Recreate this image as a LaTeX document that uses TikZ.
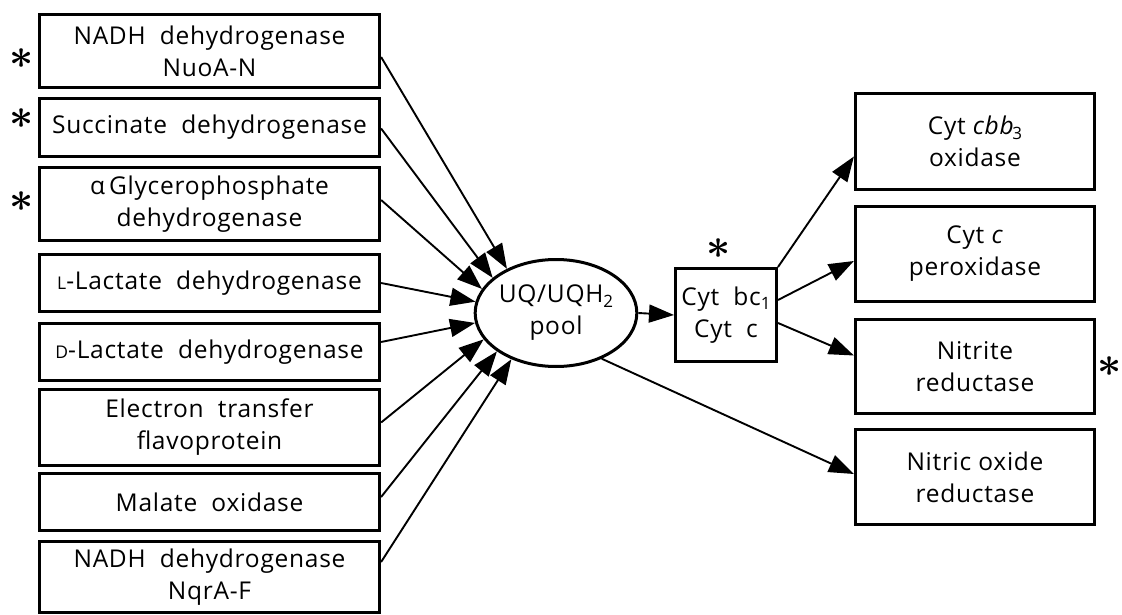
\documentclass[tikz,border=0pt]{standalone}
\usepackage{fontspec}
\setmainfont{Open Sans}[LetterSpace=3.0]
\usetikzlibrary{arrows.meta,shapes.geometric}
\newcommand\mysub[1]{{\fontsize{17}{17}\selectfont\raisebox{-4.5pt}{#1}}}
\newcommand\smallcap[1]{{\fontsize{17.5}{17}\selectfont #1}}
\begin{document}
\begin{tikzpicture}[x=1pt,y=-1pt,
  txt/.style={font=\fontsize{24.5}{32}\selectfont},
  lbox/.style={txt,draw,line width=3.2pt,minimum width=340pt,align=center,inner sep=0pt},
  rbox/.style={txt,draw,line width=3.2pt,minimum width=239pt,align=center,inner sep=0pt},
  arr/.style={line width=1.9pt,-{Triangle[length=25pt,width=18pt]}},
  star/.style={inner sep=0pt,scale=4.2,font=\boldmath}]
\useasboundingbox (0,0) rectangle (1122,615);
% left boxes
\node[lbox,minimum height=73pt] (b1) at (209.5,51) {NADH\ \ dehydrogenase\\NuoA-N};
\node[lbox,minimum height=58pt] (b2) at (209.5,127.5) {Succinate\ \ dehydrogenase};
\node[lbox,minimum height=73pt] (b3) at (209.5,204) {α\,Glycerophosphate\\dehydrogenase};
\node[lbox,minimum height=57pt] (b4) at (209.5,283) {\smallcap{L}-Lactate\ \ dehydrogenase};
\node[lbox,minimum height=57pt] (b5) at (209.5,352) {\smallcap{D}-Lactate\ \ dehydrogenase};
\node[lbox,minimum height=76pt] (b6) at (209.5,427.5) {Electron\ \ transfer\\flavoprotein};
\node[lbox,minimum height=57pt] (b7) at (209.5,502) {Malate\ \ oxidase};
\node[lbox,minimum height=71pt] (b8) at (209.5,577) {NADH\ \ dehydrogenase\\NqrA-F};
% asterisks left
\node[star] (s1) at (22,59) {$\ast$};
\node[star] (s2) at (22,119) {$\ast$};
\node[star] (s3) at (22,202) {$\ast$};
% pool
\node[txt,draw,ellipse,line width=3pt,minimum width=137pt,minimum height=107pt,inner sep=0pt,align=center] (pool) at (556,313) {UQ/UQH\mysub{2}\\pool};
% bc1
\node[txt,draw,line width=3pt,minimum width=101pt,minimum height=93pt,inner sep=0pt,align=center] (bc) at (726,315) {Cyt\ \ bc\mysub{1}\\Cyt\ \ c};
\node[star] (s4) at (719,249) {$\ast$};
% right boxes
\node[rbox,minimum height=96pt] (r1) at (975,141.5) {Cyt \textit{cbb}\kern-2pt\mysub{3}\\oxidase};
\node[rbox,minimum height=95pt] (r2) at (975,254) {Cyt \textit{c}\\peroxidase};
\node[rbox,minimum height=94pt] (r3) at (975,366.5) {Nitrite\\reductase};
\node[rbox,minimum height=95pt] (r4) at (975,477) {Nitric oxide\\reductase};
\node[star] (s5) at (1110,367) {$\ast$};
% arrows into pool
\draw[arr] ([yshift=-6pt]b1.east) -- (pool.138);
\draw[arr] ([yshift=-1pt]b2.east) -- (pool.151);
\draw[arr] ([yshift=4pt]b3.east) -- (pool.162);
\draw[arr] (b4.east) -- (pool.172);
\draw[arr] ([yshift=10pt]b5.east) -- (pool.187);
\draw[arr] ([yshift=5pt]b6.east) -- (pool.200);
\draw[arr] ([yshift=5pt]b7.east) -- (pool.213);
\draw[arr] ([yshift=15pt]b8.east) -- (pool.226);
% pool to bc
\draw[arr] (pool.east) -- (bc.west);
\draw[arr] (pool.-45) -- ([yshift=3pt]r4.west);
% bc to right
\draw[arr] (bc.north east) -- ([yshift=-15pt]r1.west);
\draw[arr] ([yshift=15pt]bc.east) -- ([yshift=-7pt]r2.west);
\draw[arr] ([yshift=-8pt]bc.east) -- ([yshift=11pt]r3.west);
\end{tikzpicture}
\end{document}
